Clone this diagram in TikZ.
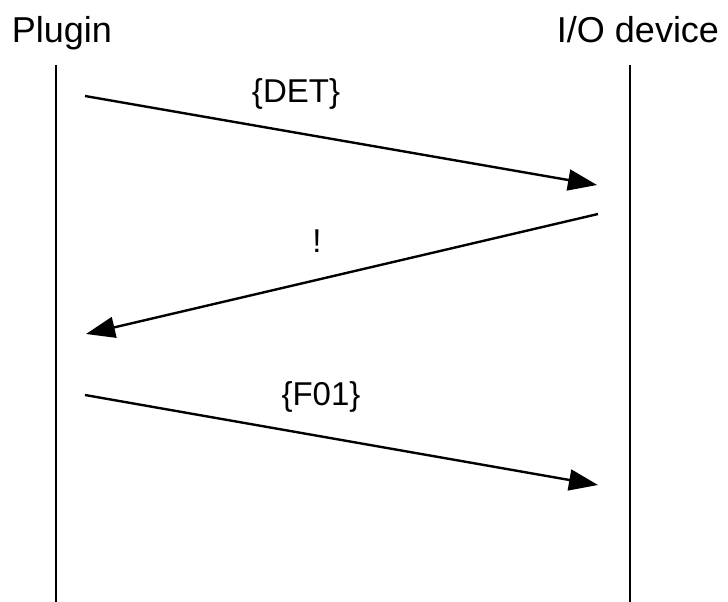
\documentclass[tikz,border=0pt]{standalone}
\usepackage{fontspec}
\setmainfont{Liberation Sans}
\usetikzlibrary{arrows.meta}

\tikzset{
  title/.style={anchor=base,inner sep=0pt,font=\fontsize{36}{40}\selectfont},
  msglabel/.style={anchor=base,inner sep=0pt,font=\fontsize{33}{38}\selectfont},
  lifeline/.style={line width=2.4pt},
  message/.style={line width=2.4pt,-{Triangle[length=29pt,width=21pt]}}
}

\begin{document}
\begin{tikzpicture}[x=1pt,y=1pt,yscale=-1,xscale=1]
        \useasboundingbox (0,0) rectangle (728,602);
        % Text Node
        \node (plugin) at (62,43) [title] {Plugin};
        % Text Node
        \node (device) at (638,43) [title] {I/O device};
        % Lifelines
        \coordinate (plugtop) at (56,65);
        \coordinate (plugbot) at (56,602);
        \coordinate (devtop) at (630,65);
        \coordinate (devbot) at (630,602);
        \draw [lifeline] (plugtop) -- (plugbot) ;
        \draw [lifeline] (devtop) -- (devbot) ;
        % Message ends
        \coordinate (detfrom) at (85,96);
        \coordinate (detto) at (597,185);
        \coordinate (ackfrom) at (598,214);
        \coordinate (ackto) at (86,334);
        \coordinate (ffrom) at (85,395);
        \coordinate (fto) at (598,485);
        % Connection
        \draw [message] (detfrom) -- (detto) ;
        \draw [message] (ackfrom) -- (ackto) ;
        \draw [message] (ffrom) -- (fto) ;
        % Text Node
        \node (det) at (296,102) [msglabel] {\{DET\}};
        % Text Node
        \node (ack) at (317,252) [msglabel] {!};
        % Text Node
        \node (fzero) at (321,405) [msglabel] {\{F01\}};
    \end{tikzpicture}
\end{document}
